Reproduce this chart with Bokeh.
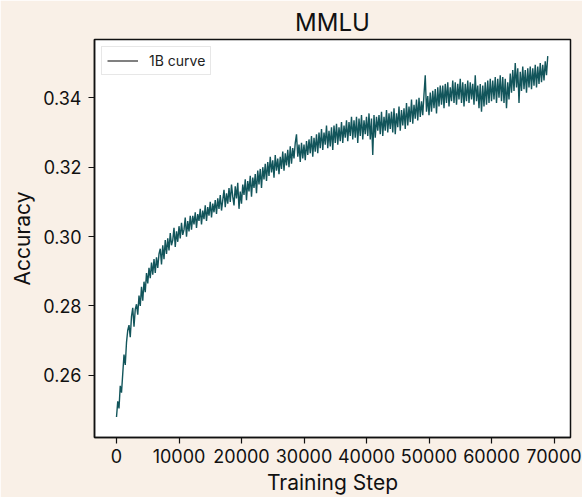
from bokeh.plotting import figure
from bokeh.models import Range1d, FixedTicker, Legend, LegendItem, NumeralTickFormatter
from bokeh.embed import file_html
from bokeh.resources import INLINE

TITLE = "MMLU"
X_LABEL = "Training Step"
Y_LABEL = "Accuracy"
SERIES_NAME = "1B curve"
X_TICKS = [0, 10000, 20000, 30000, 40000, 50000, 60000, 70000]
Y_TICKS = [0.26, 0.28, 0.30, 0.32, 0.34]
STEP_INTERVAL = 200

# accuracy, one value every 200 training steps (0 .. 69000)
accuracy = [
    0.2480, 0.2525, 0.2505, 0.2570, 0.2550, 0.2605, 0.2660, 0.2630, 0.2695, 0.2730,
    0.2745, 0.2710, 0.2770, 0.2795, 0.2740, 0.2790, 0.2805, 0.2775, 0.2830, 0.2800,
    0.2855, 0.2815, 0.2870, 0.2840, 0.2895, 0.2865, 0.2910, 0.2880, 0.2925, 0.2890,
    0.2935, 0.2895, 0.2940, 0.2910, 0.2950, 0.2965, 0.2920, 0.2975, 0.2935, 0.2990,
    0.2950, 0.2995, 0.2960, 0.3010, 0.2975, 0.2990, 0.3025, 0.2970, 0.3015, 0.2985,
    0.3030, 0.2995, 0.3040, 0.3005, 0.3020, 0.3055, 0.3000, 0.3045, 0.3015, 0.3060,
    0.3020, 0.3060, 0.3035, 0.3070, 0.3025, 0.3065, 0.3045, 0.3080, 0.3035, 0.3075,
    0.3050, 0.3090, 0.3045, 0.3085, 0.3060, 0.3100, 0.3055, 0.3095, 0.3070, 0.3105,
    0.3065, 0.3110, 0.3080, 0.3120, 0.3075, 0.3105, 0.3135, 0.3085, 0.3125, 0.3095,
    0.3140, 0.3100, 0.3150, 0.3115, 0.3090, 0.3145, 0.3110, 0.3155, 0.3080, 0.3130,
    0.3095, 0.3150, 0.3120, 0.3165, 0.3105, 0.3160, 0.3130, 0.3175, 0.3115, 0.3170,
    0.3140, 0.3180, 0.3125, 0.3190, 0.3150, 0.3195, 0.3140, 0.3200, 0.3165, 0.3210,
    0.3160, 0.3215, 0.3175, 0.3230, 0.3185, 0.3220, 0.3170, 0.3235, 0.3190, 0.3225,
    0.3180, 0.3230, 0.3195, 0.3245, 0.3190, 0.3240, 0.3205, 0.3250, 0.3200, 0.3260,
    0.3210, 0.3255, 0.3225, 0.3270, 0.3295, 0.3230, 0.3265, 0.3215, 0.3270, 0.3225,
    0.3265, 0.3220, 0.3275, 0.3235, 0.3280, 0.3240, 0.3290, 0.3230, 0.3285, 0.3245,
    0.3295, 0.3240, 0.3300, 0.3255, 0.3310, 0.3250, 0.3300, 0.3265, 0.3320, 0.3255,
    0.3305, 0.3260, 0.3315, 0.3250, 0.3320, 0.3270, 0.3325, 0.3265, 0.3315, 0.3275,
    0.3330, 0.3270, 0.3320, 0.3285, 0.3335, 0.3275, 0.3330, 0.3290, 0.3345, 0.3280,
    0.3335, 0.3285, 0.3345, 0.3270, 0.3340, 0.3290, 0.3350, 0.3280, 0.3335, 0.3295,
    0.3345, 0.3290, 0.3355, 0.3280, 0.3340, 0.3235, 0.3350, 0.3285, 0.3345, 0.3305,
    0.3350, 0.3295, 0.3360, 0.3290, 0.3345, 0.3305, 0.3365, 0.3300, 0.3355, 0.3310,
    0.3360, 0.3300, 0.3370, 0.3295, 0.3355, 0.3315, 0.3375, 0.3305, 0.3365, 0.3320,
    0.3370, 0.3310, 0.3385, 0.3320, 0.3375, 0.3330, 0.3395, 0.3325, 0.3380, 0.3340,
    0.3395, 0.3335, 0.3400, 0.3345, 0.3390, 0.3350, 0.3410, 0.3465, 0.3360, 0.3405,
    0.3350, 0.3415, 0.3360, 0.3420, 0.3370, 0.3425, 0.3355, 0.3430, 0.3375, 0.3435,
    0.3380, 0.3435, 0.3370, 0.3440, 0.3385, 0.3445, 0.3375, 0.3430, 0.3390, 0.3450,
    0.3385, 0.3445, 0.3380, 0.3440, 0.3395, 0.3455, 0.3385, 0.3445, 0.3375, 0.3440,
    0.3390, 0.3450, 0.3385, 0.3445, 0.3395, 0.3440, 0.3380, 0.3465, 0.3390, 0.3435,
    0.3370, 0.3440, 0.3360, 0.3435, 0.3375, 0.3445, 0.3380, 0.3450, 0.3385, 0.3455,
    0.3390, 0.3450, 0.3395, 0.3460, 0.3385, 0.3455, 0.3400, 0.3465, 0.3390, 0.3460,
    0.3385, 0.3455, 0.3370, 0.3445, 0.3395, 0.3470, 0.3415, 0.3480, 0.3420, 0.3500,
    0.3430, 0.3485, 0.3385, 0.3475, 0.3420, 0.3490, 0.3425, 0.3480, 0.3415, 0.3485,
    0.3430, 0.3490, 0.3425, 0.3485, 0.3435, 0.3495, 0.3430, 0.3490, 0.3440, 0.3500,
    0.3445, 0.3495, 0.3450, 0.3505, 0.3465, 0.3520,
]
steps = [i * STEP_INTERVAL for i in range(len(accuracy))]

FONT = "Inter"
BG = "#f9f0e7"
LINE_COLOR = "#12555b"

p = figure(
    width=582, height=497,
    frame_width=476, frame_height=398,
    min_border_left=94, min_border_right=12, min_border_top=39, min_border_bottom=60,
    x_range=Range1d(-3520, 72640), y_range=Range1d(0.2421, 0.3568),
    output_backend="svg", toolbar_location=None,
    background_fill_color="white", border_fill_color=BG,
    title=TITLE,
)

curve = p.line(steps, accuracy, line_color=LINE_COLOR, line_width=1.4)
legend_dummy = p.line([float("nan")], [float("nan")], line_color="#808080", line_width=2)

legend = Legend(items=[LegendItem(label=SERIES_NAME, renderers=[legend_dummy])],
                location="top_left")
legend.label_text_font = FONT
legend.label_text_font_size = "14px"
legend.label_text_color = "#222222"
legend.border_line_color = "#d0d0d0"
legend.border_line_width = 1
legend.background_fill_color = "white"
legend.margin = 7
legend.padding = 5
legend.glyph_width = 31
legend.label_standoff = 11
legend.label_height = 15
legend.glyph_height = 15
p.add_layout(legend)

p.title.align = "center"
p.title.text_font = FONT
p.title.text_font_size = "24px"
p.title.text_font_style = "normal"
p.title.text_color = "#111111"
p.title.offset = 0
p.title.standoff = 5

p.xgrid.visible = False
p.ygrid.visible = False

p.outline_line_color = "#111111"
p.outline_line_width = 1.5

p.xaxis.ticker = FixedTicker(ticks=X_TICKS)
p.yaxis.ticker = FixedTicker(ticks=Y_TICKS)
p.yaxis.formatter = NumeralTickFormatter(format="0.00")
p.xaxis.formatter = NumeralTickFormatter(format="0")

for ax in (p.xaxis, p.yaxis):
    ax.axis_line_color = "#111111"
    ax.axis_line_width = 1.5
    ax.major_tick_line_color = "#111111"
    ax.major_tick_line_width = 1.2
    ax.major_tick_out = 6
    ax.major_tick_in = 0
    ax.minor_tick_line_color = None
    ax.major_label_text_font = FONT
    ax.major_label_text_font_size = "18px"
    ax.major_label_text_color = "#111111"
    ax.axis_label_text_font = FONT
    ax.axis_label_text_font_size = "21px"
    ax.axis_label_text_font_style = "normal"
    ax.axis_label_text_color = "#111111"

p.xaxis.axis_label = X_LABEL
p.yaxis.axis_label = Y_LABEL
p.xaxis.major_label_standoff = 5
p.yaxis.major_label_standoff = 7
p.xaxis.axis_label_standoff = 4
p.yaxis.axis_label_standoff = 5

open("out.html", "w").write(file_html(p, INLINE))
